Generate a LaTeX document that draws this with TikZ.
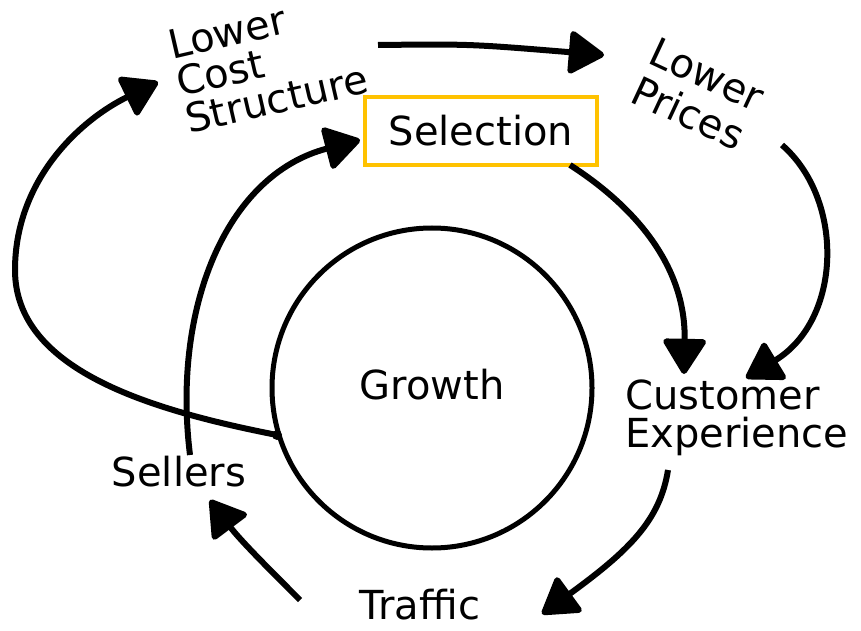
\documentclass[tikz,border=0pt]{standalone}
\usepackage{fontspec}
\setmainfont{DejaVu Sans}
\usetikzlibrary{arrows.meta}
\definecolor{selyellow}{RGB}{255,194,0}

\begin{document}
\begin{tikzpicture}[x=1pt, y=1pt,
  flow/.style={line width=6pt, -{Triangle[round,length=38pt,width=46pt]}},
  lbl/.style={font=\fontsize{40}{38}\selectfont, align=left, inner sep=0pt}]

\useasboundingbox (0,0) rectangle (861,630);

% labels
\node[lbl, rotate=13]  (cost)      at (268,568) {Lower\\Cost\\Structure};
\node[lbl, rotate=-25, font=\fontsize{40}{43}\selectfont]
                       (prices)    at (698,536) {Lower\\Prices};
\node[lbl, draw=selyellow, line width=4pt, minimum width=232pt,
      minimum height=68pt] (selection) at (481,499) {Selection};
\node[lbl, anchor=west] (cx)       at (625,212) {Customer\\Experience};
\node[lbl]             (growth)    at (432,245) {Growth};
\node[lbl]             (sellers)   at (179,158) {Sellers};
\node[lbl]             (traffic)   at (420,25)  {Traffic};

% the wheel
\draw[line width=5pt] (growth) ++(0,-3) circle (160);
\coordinate (hub) at (277,195);
\fill (hub) circle (5);

% arrow ends
\coordinate (costA)    at (378,585);
\coordinate (pricesA)  at (604,575);
\coordinate (pricesB)  at (782,485);
\coordinate (cxA)      at (746,252);
\coordinate (selA)     at (570,465);
\coordinate (cxB)      at (684,256);
\coordinate (cxC)      at (668,160);
\coordinate (trafA)    at (542,16);
\coordinate (trafB)    at (300,30);
\coordinate (sellA)    at (210,130);
\coordinate (sellB)    at (190,175);
\coordinate (selB)     at (360,490);
\coordinate (left)     at (15,360);
\coordinate (costB)    at (158,548);

\draw[flow] (costA) .. controls (470,586) .. (pricesA);
\draw[flow] (pricesB) .. controls (845,430) and (842,310) .. (cxA);
\draw[flow] (selA) .. controls (640,420) and (686,360) .. (cxB);
\draw[flow] (cxC) .. controls (660,110) and (630,80) .. (trafA);
\draw[flow] (trafB) .. controls (270,60) and (240,90) .. (sellA);
\draw[flow] (sellB) .. controls (172,320) and (225,455) .. (selB);
\draw[flow] (hub) .. controls (150,220) and (15,260) .. (left)
            .. controls (15,450) and (80,510) .. (costB);

\end{tikzpicture}
\end{document}
